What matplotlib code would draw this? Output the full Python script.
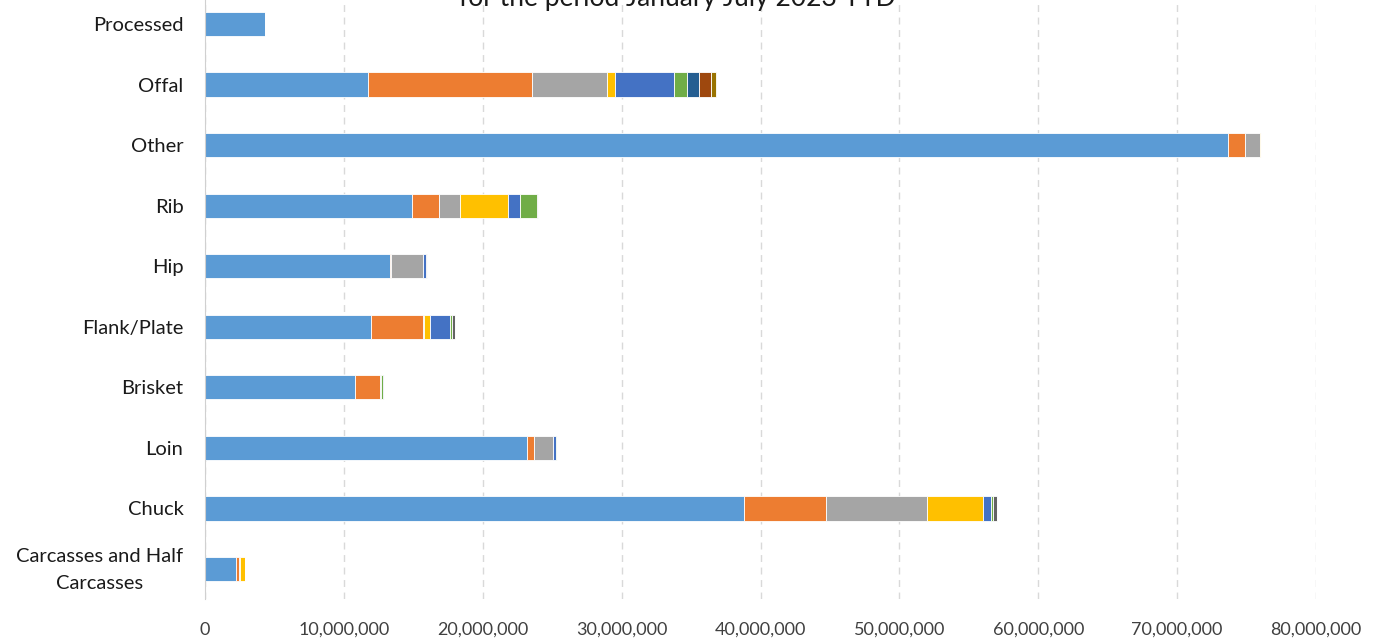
import matplotlib
matplotlib.use("Agg")
import matplotlib.pyplot as plt
import matplotlib.transforms as mtransforms
import numpy as np

plt.rcParams['font.family'] = ['Lato', 'DejaVu Sans']

categories = ["Carcasses and Half\nCarcasses", "Chuck", "Loin", "Brisket", "Flank/Plate",
              "Hip", "Rib", "Other", "Offal", "Processed"]

# Series values (in head-to-tail stacking order), per category (same order as categories)
s1 = [2.23e6, 38.78e6, 23.18e6, 10.80e6, 11.98e6, 13.30e6, 14.91e6, 73.65e6, 11.74e6, 4.32e6]
s2 = [0.22e6, 5.91e6, 0.50e6, 1.82e6, 3.75e6, 0.08e6, 1.95e6, 1.27e6, 11.80e6, 0.0]
s3 = [0.05e6, 7.30e6, 1.41e6, 0.08e6, 0.05e6, 2.35e6, 1.51e6, 1.08e6, 5.40e6, 0.0]
s4 = [0.38e6, 4.06e6, 0.0, 0.0, 0.39e6, 0.0, 3.46e6, 0.05e6, 0.58e6, 0.0]
s5 = [0.0, 0.55e6, 0.19e6, 0.0, 1.46e6, 0.17e6, 0.86e6, 0.0, 4.23e6, 0.0]
s6 = [0.0, 0.14e6, 0.09e6, 0.10e6, 0.14e6, 0.0, 1.25e6, 0.0, 0.94e6, 0.0]
s7 = [0.0, 0.0, 0.0, 0.09e6, 0.0, 0.0, 0.0, 0.0, 0.89e6, 0.0]
s8 = [0.0, 0.0, 0.0, 0.0, 0.0, 0.0, 0.0, 0.0, 0.82e6, 0.0]
s9 = [0.0, 0.26e6, 0.0, 0.0, 0.24e6, 0.05e6, 0.07e6, 0.0, 0.0, 0.0]
s10 = [0.0, 0.0, 0.0, 0.0, 0.0, 0.0, 0.0, 0.0, 0.36e6, 0.0]

series = [s1, s2, s3, s4, s5, s6, s7, s8, s9, s10]
colors = ["#5B9BD5", "#ED7D31", "#A5A5A5", "#FFC000", "#4472C4",
          "#70AD47", "#255E91", "#9E480E", "#636363", "#997300"]

xticks = [0, 10e6, 20e6, 30e6, 40e6, 50e6, 60e6, 70e6, 80e6]
xticklabels = ["0", "10,000,000", "20,000,000", "30,000,000", "40,000,000",
               "50,000,000", "60,000,000", "70,000,000", "80,000,000"]

fig = plt.figure(figsize=(13.81, 6.41), dpi=100)
ax = fig.add_axes([205/1381, 41.7/641, (1316-205)/1381, 605.6/641])

y = np.arange(len(categories))
left = np.zeros(len(categories))
for vals, c in zip(series, colors):
    v = np.array(vals)
    ax.barh(y, v, left=left, height=0.4, color=c, edgecolor='white', linewidth=0.6, zorder=3)
    left += v

ax.set_xlim(0, 80e6)
ax.set_ylim(-0.5, len(categories) - 0.5)
ax.set_xticks(xticks)
ax.set_xticklabels(xticklabels, fontsize=13, color='#404040')
ax.set_yticks(y)
ax.set_yticklabels(categories, fontsize=14.5, color='#1a1a1a', multialignment='center',
                   linespacing=1.75)
ax.tick_params(axis='both', length=0)
ax.tick_params(axis='y', pad=15.5)
ax.tick_params(axis='x', pad=16)
ax.grid(axis='x', linestyle=(0, (5, 4)), color='#D9D9D9', linewidth=1, zorder=0)
for s in ['top', 'right', 'bottom']:
    ax.spines[s].set_visible(False)
ax.spines['left'].set_color('#D0D0D0')
ax.spines['left'].set_zorder(4)

# nudge the two-line label up slightly
lbl = ax.get_yticklabels()[0]
lbl.set_transform(lbl.get_transform() +
                  mtransforms.ScaledTranslation(0, 6/100, fig.dpi_scale_trans))

fig.text(677/1381, (641-6)/641, "for the period January July 2023 YTD", fontsize=19,
         ha='center', va='baseline', color='#1a1a1a')

fig.savefig("out.png", dpi=100)
